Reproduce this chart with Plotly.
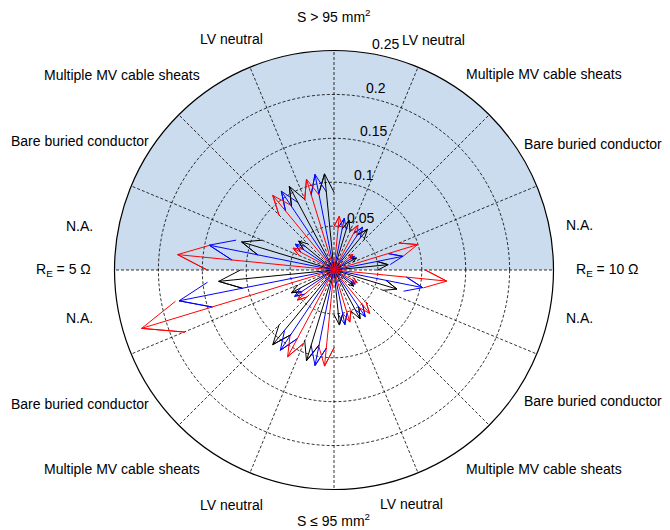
import numpy as np
import plotly.graph_objects as go

# ---------------- data ----------------
sectors = ["N.A.", "Bare buried conductor", "Multiple MV cable sheats", "LV neutral",
           "LV neutral", "Multiple MV cable sheats", "Bare buried conductor", "N.A.",
           "N.A.", "Bare buried conductor", "Multiple MV cable sheats", "LV neutral",
           "LV neutral", "Multiple MV cable sheats", "Bare buried conductor", "N.A."]
sector_width = 22.5

black_vals = [0.062, 0.029, 0.060, 0.059, 0.110, 0.108, 0.052, 0.110,
              0.132, 0.055, 0.110, 0.108, 0.063, 0.063, 0.029, 0.075]
blue_vals = [0.080, 0.028, 0.0585, 0.060, 0.111, 0.108, 0.053, 0.145,
             0.180, 0.054, 0.110, 0.111, 0.0635, 0.064, 0.029, 0.103]
red_vals = [0.0996, 0.028, 0.058, 0.0615, 0.108, 0.110, 0.053, 0.179,
            0.229, 0.054, 0.112, 0.110, 0.062, 0.064, 0.030, 0.129]

series = [("black", black_vals, 1), ("blue", blue_vals, 2), ("red", red_vals, 3)]

ring_ticks = [0.05, 0.1, 0.15, 0.2, 0.25]
ring_labels = ["0.05", "0.1", "0.15", "0.2", "0.25"]
spoke_angles = [i * 22.5 for i in range(16)]

outer_texts = ["R<sub>E</sub> = 10 Ω", "N.A.", "Bare buried conductor", "Multiple MV cable sheats",
               "LV neutral", "S > 95 mm<sup>2</sup>", "LV neutral", "Multiple MV cable sheats",
               "Bare buried conductor", "N.A.", "R<sub>E</sub> = 5 Ω", "N.A.",
               "Bare buried conductor", "Multiple MV cable sheats", "LV neutral",
               "S ≤ 95 mm<sup>2</sup>", "LV neutral", "Multiple MV cable sheats",
               "Bare buried conductor", "N.A."]
outer_theta = [0, 10.3, 25.9, 43.0, 66.6, 90, 114.0, 137.3, 153.1, 170.1,
               180, 190.6, 207.8, 223.3, 246.3, 270, 288.3, 316.5, 333.2, 349.0]
outer_r = [0.312, 0.284, 0.3285, 0.327, 0.286, 0.289, 0.2875, 0.328, 0.325, 0.294,
           0.308, 0.295, 0.3275, 0.331, 0.2917, 0.285, 0.281, 0.330, 0.3305, 0.285]

RMAX = 0.25
FONT = dict(family="Liberation Sans, Arial, sans-serif", size=14, color="black")

W, H = 670, 530
cx, cy, R = 326, 262, 219.5   # polar centre / radius in figure pixels
scale = R / RMAX


def to_paper(r, theta):
    a = np.radians(theta)
    return (cx + r * scale * np.cos(a)) / W, (H - (cy - r * scale * np.sin(a))) / H


fig = go.Figure()

# shaded upper half
fig.add_trace(go.Barpolar(r=[RMAX], theta=[90], width=[180],
                          marker=dict(color="rgb(203,220,238)", line=dict(width=0)),
                          hoverinfo="skip", showlegend=False))

# dotted grid: rings and spokes
gr, gt = [], []
circ = list(np.arange(0, 361, 2.0))
for rv in ring_ticks[:-1]:
    gr += [rv] * len(circ) + [None]
    gt += circ + [None]
for a in spoke_angles:
    gr += [0, RMAX, None]
    gt += [a, a, None]
fig.add_trace(go.Scatterpolar(r=gr, theta=gt, mode="lines",
                              line=dict(color="black", width=0.8, dash="3px,2px"),
                              hoverinfo="skip", showlegend=False))

# compass arrows
head_r = float(np.hypot(0.8, 0.08))
head_a = float(np.degrees(np.arctan2(0.08, 0.8)))
for color, vals, j in series:
    rr, tt = [], []
    for k, v in enumerate(vals):
        th = k * sector_width + j * sector_width / 4
        rr += [0, v, head_r * v, v, head_r * v, None]
        tt += [th, th, th + head_a, th, th - head_a, None]
    fig.add_trace(go.Scatterpolar(r=rr, theta=tt, mode="lines",
                                  line=dict(color=color, width=1),
                                  hoverinfo="skip", showlegend=False))

annotations = []
# radial tick labels (at 82 degrees, left/bottom aligned)
for v, s in zip(ring_ticks, ring_labels):
    x, y = to_paper(v + 0.0025, 82)
    annotations.append(dict(x=x, y=y, xref="paper", yref="paper", text=s, showarrow=False,
                            xanchor="left", yanchor="bottom", xshift=5, yshift=-4, font=FONT))
# outer category labels
for s, r, t in zip(outer_texts, outer_r, outer_theta):
    x, y = to_paper(r, t)
    annotations.append(dict(x=x, y=y, xref="paper", yref="paper", text=s, showarrow=False,
                            xanchor="center", yanchor="middle", font=FONT))

fig.update_layout(
    width=W, height=H,
    margin=dict(l=0, r=0, t=0, b=0),
    paper_bgcolor="white",
    showlegend=False,
    annotations=annotations,
    polar=dict(
        domain=dict(x=[(cx - R) / W, (cx + R) / W], y=[(H - cy - R) / H, (H - cy + R) / H]),
        bgcolor="white",
        radialaxis=dict(range=[0, RMAX], showgrid=False, showline=False,
                        showticklabels=False, ticks=""),
        angularaxis=dict(rotation=0, direction="counterclockwise", showgrid=False,
                         showline=True, linecolor="black", linewidth=1.2,
                         showticklabels=False, ticks=""),
    ),
)

fig.write_html("out.html")
